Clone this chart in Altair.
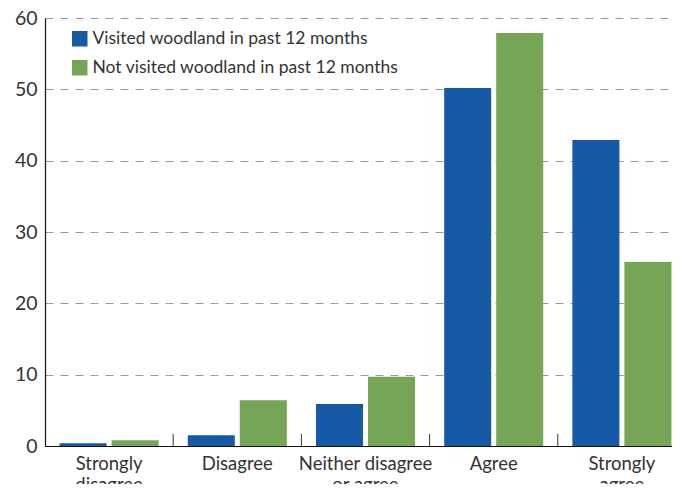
import altair as alt
import pandas as pd

categories = ["Strongly disagree", "Disagree", "Neither disagree or agree", "Agree", "Strongly agree"]
label_lines = [["Strongly", "disagree"], ["Disagree"], ["Neither disagree", "or agree"], ["Agree"], ["Strongly", "agree"]]
series = ["Visited woodland in past 12 months", "Not visited woodland in past 12 months"]
visited = [0.4, 1.5, 5.9, 50.2, 42.9]
not_visited = [0.8, 6.4, 9.7, 57.9, 25.8]
y_ticks = [0, 10, 20, 30, 40, 50, 60]
colors = ["#165aa6", "#76a556"]

rows = []
for i, c in enumerate(categories):
    rows.append({"cat": c, "series": series[0], "value": visited[i]})
    rows.append({"cat": c, "series": series[1], "value": not_visited[i]})
df = pd.DataFrame(rows)

tick_df = pd.DataFrame({"cat": categories[1:], "y0": [0] * 4, "y1": [1.7] * 4})

expr_parts = []
for c, lines in zip(categories, label_lines):
    arr = "[" + ",".join("'" + l + "'" for l in lines) + "]"
    expr_parts.append(f"datum.label == '{c}' ? {arr} : ")
label_expr = "".join(expr_parts) + "datum.label"

FONT = "Lato"

x_enc = alt.X(
    "cat:N", sort=categories, title=None,
    scale=alt.Scale(paddingInner=0, paddingOuter=0),
    axis=alt.Axis(labelAngle=0, labelExpr=label_expr, labelFontSize=18.5, labelColor="#333333",
                  labelFont=FONT, labelPadding=8, labelLineHeight=21, ticks=False,
                  domainColor="#111111", domainWidth=1.2, labelBaseline="top"),
)

bars = alt.Chart(df).mark_bar().encode(
    x=x_enc,
    xOffset=alt.XOffset("series:N", sort=series,
                        scale=alt.Scale(paddingInner=0.096, paddingOuter=0.28)),
    y=alt.Y("value:Q", title=None,
            scale=alt.Scale(domain=[0, 60], nice=False),
            axis=alt.Axis(values=y_ticks, grid=True, gridDash=[8, 7], gridColor="#9a9a9a",
                          gridWidth=1, ticks=False, labelFontSize=19.5, labelColor="#333333",
                          labelFont=FONT, labelPadding=8, domainColor="#111111", domainWidth=1.2)),
    color=alt.Color("series:N", sort=series, scale=alt.Scale(domain=series, range=colors),
                    legend=alt.Legend(title=None, orient="none", legendX=26, legendY=12,
                                      symbolType="square", symbolSize=240, symbolStrokeWidth=0,
                                      labelFontSize=17.5, labelFont=FONT, labelColor="#333333",
                                      labelLimit=500, rowPadding=10, labelOffset=4)),
)

ticks = alt.Chart(tick_df).mark_rule(color="#333333", strokeWidth=1).encode(
    x=alt.X("cat:N", sort=categories, bandPosition=0),
    y="y0:Q",
    y2="y1:Q",
)

chart = alt.layer(bars, ticks).properties(
    width=641, height=428,
    padding={"left": 37, "top": 10, "right": -14, "bottom": 38},
    autosize=alt.AutoSizeParams(type="none"),
).configure_view(stroke=None)

chart.save("out.html", embed_options={"renderer": "svg", "actions": False})
